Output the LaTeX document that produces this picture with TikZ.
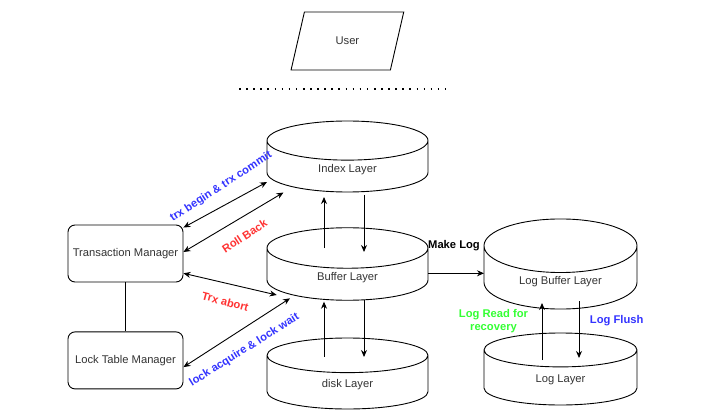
\documentclass[tikz,border=0pt]{standalone}
\usepackage{fontspec}
\setmainfont{Liberation Sans}
\usepackage{xcolor}
\usetikzlibrary{calc,positioning}
\usetikzlibrary{shapes}
\usetikzlibrary{arrows.meta}

\definecolor{trxblue}{RGB}{51,51,255}
\definecolor{trxred}{RGB}{255,51,51}
\definecolor{loggreen}{RGB}{51,255,51}

\begin{document}
\begin{tikzpicture}[x=1pt, y=-1pt, font=\fontsize{11.2}{13}\selectfont,
		>={Stealth[length=7pt,width=6pt]},
		layer/.style = {draw, cylinder, shape border rotate=90, aspect=0.6, minimum width=161pt, minimum height=71pt, anchor=shape center, text=black!80, line width=0.9pt},
		manager/.style = {draw, rounded corners=7pt, minimum width=115pt, minimum height=57pt, text=black!80, line width=0.9pt},
		conn/.style = {line width=0.9pt},
		lbl/.style = {font=\fontsize{11.2}{13}\selectfont\bfseries}]
		\useasboundingbox (0,0) rectangle (717,414);
		\node[draw, trapezium, trapezium left angle=72, trapezium right angle=108, trapezium stretches=true, minimum width=113pt, minimum height=58pt, text=black!80, line width=0.9pt] (user) at (347.4,41) {User};
		\draw[line width=1.6pt, dash pattern=on 1.6pt off 5.5pt] (239,89) -- (445,89);
		\node[layer] (idx) at (347.5,156.5) {Index Layer};
		\node[layer] (buf) at (347.5,264) {Buffer Layer};
		\node[layer] (disk) at (347.5,373.5) {disk Layer};
		\node[layer, minimum width=153pt, minimum height=72pt] (lbuf) at (560.5,264) {Log Buffer Layer};
		\node[layer, minimum width=153pt, minimum height=72pt] (log) at (560.5,369) {Log Layer};
		\node[manager] (tm) at (125.5,253.5) {Transaction Manager};
		\node[manager] (ltm) [below=49pt of tm] {Lock Table Manager};
		\draw[conn] (tm) -- (ltm);
		\draw[conn, <->] ([yshift=-3pt]tm.north east) -- ($(idx.shape center)+(-80.5,25.5)$)
			node[lbl, text=trxblue, midway, xshift=-4pt, yshift=18pt, rotate=33] {trx begin \& trx commit};
		\draw[conn, <->] ([yshift=1.5pt]tm.east) -- ($(idx.shape center)+(-64,36)$)
			node[lbl, text=trxred, midway, xshift=11pt, yshift=-13.75pt, rotate=33] {Roll Back};
		\draw[conn, <->] ([yshift=-19.8pt]tm.east) -- ($(buf.shape center)+(-70.8,31)$)
			node[lbl, text=trxred, midway, xshift=-4.85pt, yshift=-17.55pt, rotate=-15] {Trx abort};
		\draw[conn, <->] ([yshift=-6.7pt]ltm.east) -- ($(buf.shape center)+(-57.5,34.3)$)
			node[lbl, text=trxblue, midway, xshift=7.7pt, yshift=-17.5pt, rotate=32] {lock acquire \& lock wait};
		\draw[conn, ->] ($(buf.shape center)+(-23.5,-16)$) -- ($(idx.shape center)+(-23.5,40.5)$);
		\draw[conn, ->] ($(idx.shape center)+(16.5,38.5)$) -- ($(buf.shape center)+(16.5,-12)$);
		\draw[conn, ->] ($(disk.shape center)+(-23.5,-16.8)$) -- ($(buf.shape center)+(-23.5,37.7)$);
		\draw[conn, ->] ($(buf.shape center)+(16.5,36)$) -- ($(disk.shape center)+(16.5,-16.5)$);
		\draw[conn, ->] ($(buf.shape center)+(80.5,9.3)$) -- ($(lbuf.shape center)+(-76.5,9.3)$)
			node[lbl, midway, xshift=-2pt, yshift=28pt] {Make Log};
		\draw[conn, ->] ($(log.shape center)+(-18.5,-9)$) -- ($(lbuf.shape center)+(-18.5,39)$)
			node[lbl, text=loggreen, align=center, midway, xshift=-48.5pt, yshift=10pt] {Log Read for\\recovery};
		\draw[conn, ->] ($(lbuf.shape center)+(18.5,37)$) -- ($(log.shape center)+(18.5,-11)$)
			node[lbl, text=trxblue, midway, xshift=37.7pt, yshift=8.5pt] {Log Flush};
	\end{tikzpicture}
\end{document}
